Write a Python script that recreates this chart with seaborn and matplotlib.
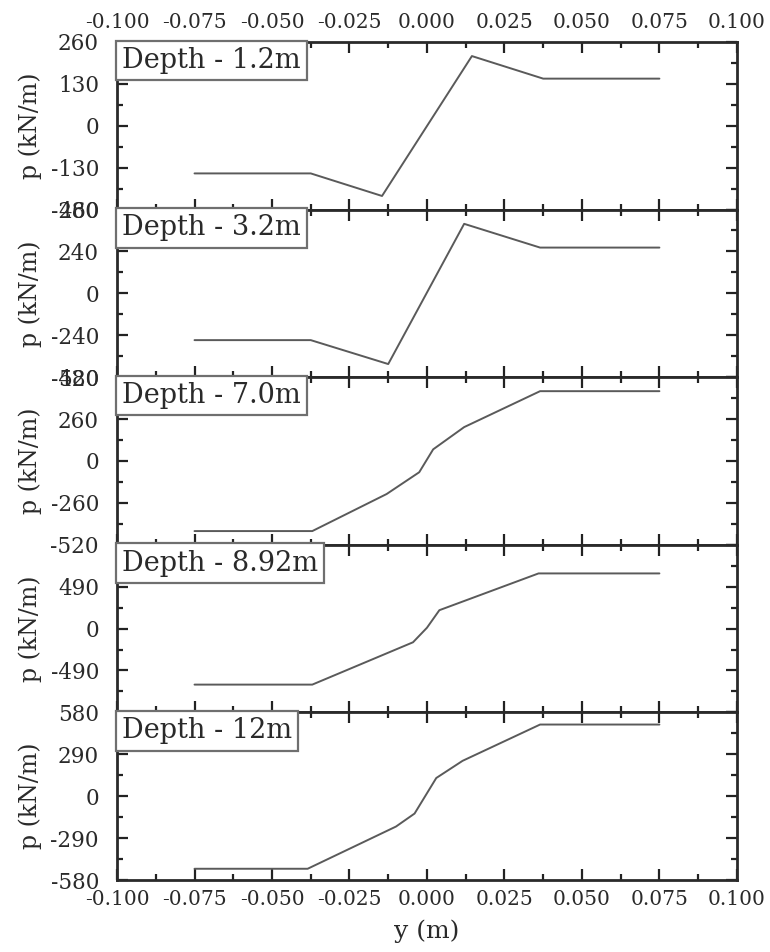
import numpy as np
import pandas as pd
import matplotlib
matplotlib.use("Agg")
import matplotlib.pyplot as plt
import seaborn as sns
from matplotlib.offsetbox import AnchoredText
from matplotlib.ticker import MultipleLocator, FixedLocator

# ---- data ----
depth_labels = ["Depth - 1.2m", "Depth - 3.2m", "Depth - 7.0m", "Depth - 8.92m", "Depth - 12m"]

y_d1 = [-0.075, -0.0375, -0.0145, 0.0145, 0.0375, 0.075]
p_d1 = [-148, -148, -218, 216, 146, 146]

y_d2 = [-0.075, -0.0375, -0.0125, 0.012, 0.0365, 0.075]
p_d2 = [-268, -268, -405, 398, 262, 262]

y_d3 = [-0.075, -0.037, -0.013, -0.0025, 0.002, 0.012, 0.0365, 0.075]
p_d3 = [-435, -435, -205, -70, 72, 210, 433, 433]

y_d4 = [-0.075, -0.037, -0.0045, 0.0, 0.004, 0.036, 0.075]
p_d4 = [-655, -655, -160, 10, 215, 645, 645]

y_d5 = [-0.075, -0.0385, -0.010, -0.004, 0.003, 0.0115, 0.0365, 0.075]
p_d5 = [-502, -502, -210, -120, 126, 245, 496, 496]

y_limits = [260, 480, 520, 980, 580]
y_major = [130, 240, 260, 490, 290]
y_ticklabels_shown = [
    [-260, -130, 0, 130, 260],
    [-480, -240, 0, 240, 480],
    [-520, -260, 0, 260, 520],
    [-490, 0, 490],
    [-580, -290, 0, 290, 580],
]
x_ticks = [-0.100, -0.075, -0.050, -0.025, 0.000, 0.025, 0.050, 0.075, 0.100]

series = [(y_d1, p_d1), (y_d2, p_d2), (y_d3, p_d3), (y_d4, p_d4), (y_d5, p_d5)]

# ---- style ----
sns.set_style("ticks")
FONT = ["DejaVu Serif"]
plt.rcParams["font.family"] = FONT
plt.rcParams["axes.linewidth"] = 2.0
plt.rcParams["axes.unicode_minus"] = False

TXT = "#2a2a2a"

fig, axes = plt.subplots(5, 1, figsize=(7.7, 9.52), dpi=100, sharex=True)
fig.subplots_adjust(left=0.152, right=0.957, top=0.956, bottom=0.0756, hspace=0)

for i, ax in enumerate(axes):
    xs, ps = series[i]
    df = pd.DataFrame({"y": xs, "p": ps})
    sns.lineplot(data=df, x="y", y="p", ax=ax, color="#5a5a5a", linewidth=1.4,
                 estimator=None, sort=False)
    lim = y_limits[i]
    ax.set_xlim(-0.1, 0.1)
    ax.set_ylim(-lim, lim)
    ax.xaxis.set_major_locator(FixedLocator(x_ticks))
    ax.xaxis.set_minor_locator(MultipleLocator(0.0125))
    ax.yaxis.set_major_locator(MultipleLocator(y_major[i]))
    ax.yaxis.set_minor_locator(MultipleLocator(y_major[i] / 2))
    shown = y_ticklabels_shown[i]
    ax.yaxis.set_major_formatter(
        matplotlib.ticker.FuncFormatter(lambda v, pos, s=shown: (f"{int(round(v))}" if int(round(v)) in s else ""))
    )
    ax.tick_params(which="both", direction="in", top=True, right=True, bottom=True, left=True,
                   width=1.6, colors="#222222", labelcolor=TXT)
    ax.tick_params(which="major", length=8, labelsize=14.5)
    ax.tick_params(which="minor", length=4)
    ax.tick_params(axis="y", pad=13, labelsize=15.5)
    ax.tick_params(axis="x", labelbottom=False, labeltop=False)
    ax.set_ylabel("p (kN/m)", fontsize=17, color=TXT, labelpad=6)
    ax.set_xlabel("")
    for s in ax.spines.values():
        s.set_color("#2a2a2a")
    at = AnchoredText(depth_labels[i], loc="upper left", pad=0.18, borderpad=0,
                      prop=dict(size=19.5, family=FONT, color=TXT), frameon=True)
    at.patch.set_edgecolor("#6f6f6f")
    at.patch.set_linewidth(1.6)
    at.patch.set_boxstyle("square,pad=0.05")
    ax.add_artist(at)

axes[0].tick_params(axis="x", labeltop=True, pad=7)
axes[-1].tick_params(axis="x", labelbottom=True, pad=7)
axes[-1].xaxis.set_major_formatter(matplotlib.ticker.FormatStrFormatter("%.3f"))
axes[0].xaxis.set_major_formatter(matplotlib.ticker.FormatStrFormatter("%.3f"))
axes[-1].set_xlabel("y (m)", fontsize=18, color=TXT, labelpad=8)

fig.savefig("out.png", dpi=100, facecolor="white")
